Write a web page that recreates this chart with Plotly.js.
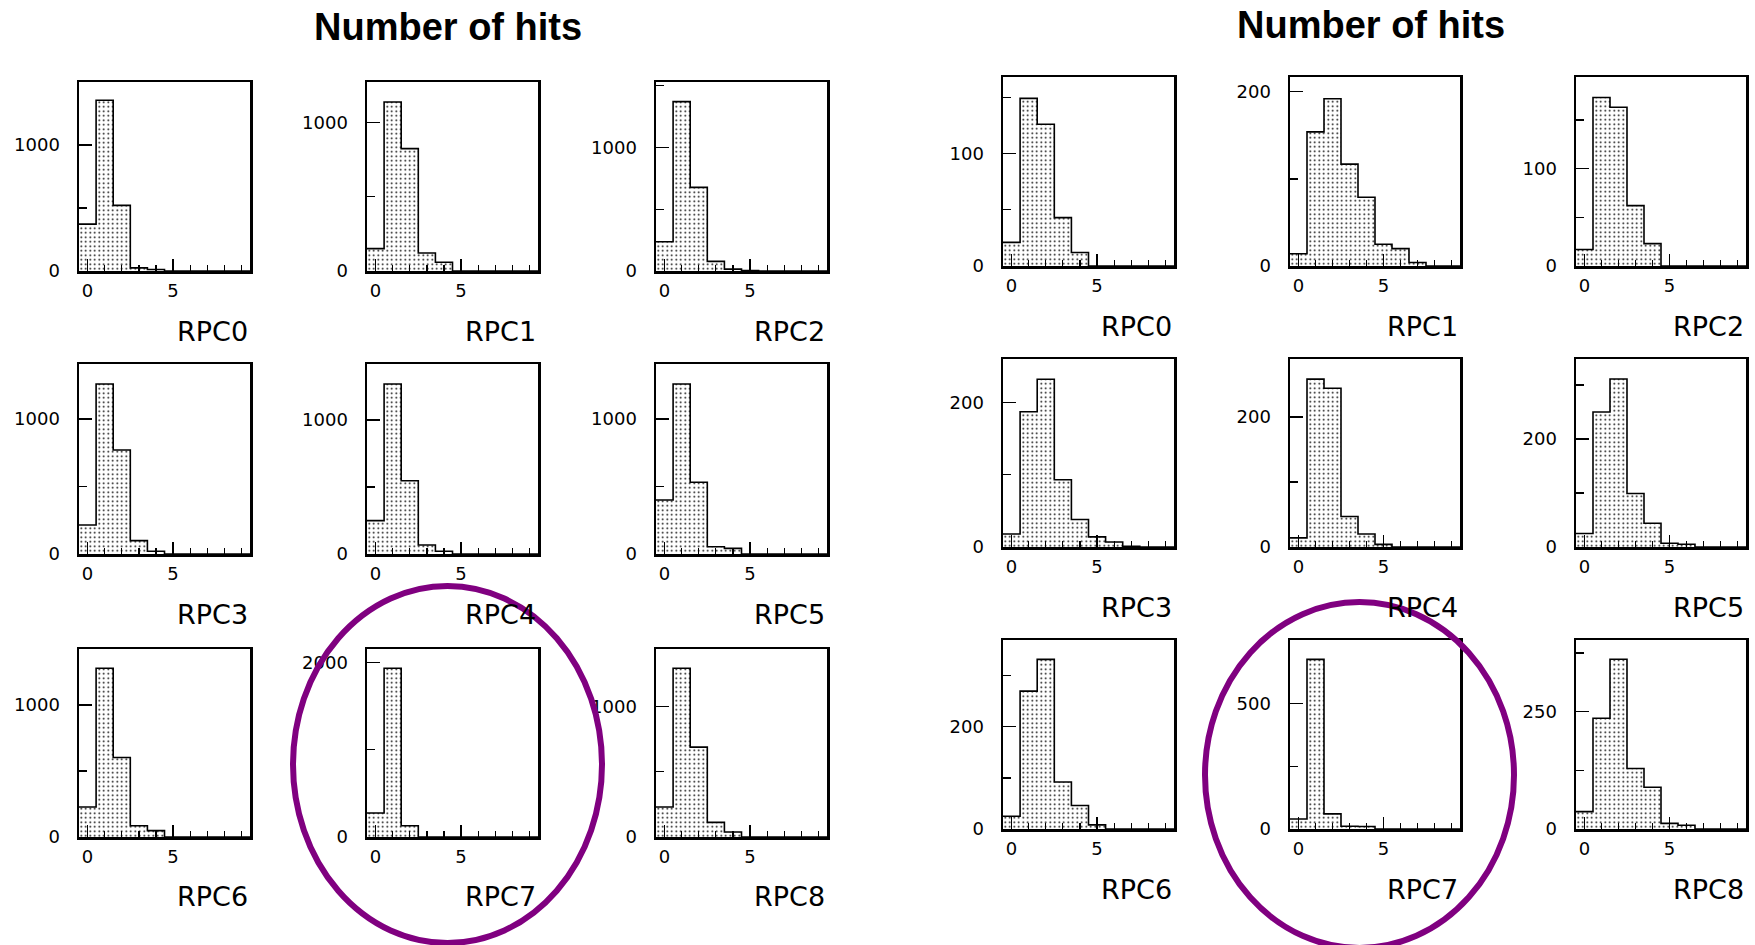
<!DOCTYPE html>
<html><head><meta charset="utf-8">
<script src="https://cdn.plot.ly/plotly-3.0.1.min.js"></script>
<style>html,body{margin:0;padding:0;background:#fff;} #chart{width:1755px;height:945px;}</style>
</head><body><div id="chart"></div>
<script>
// ---- data ----
const bins = [0, 1, 2, 3, 4, 5, 6, 7, 8, 9];
const panelNames = ["RPC0", "RPC1", "RPC2", "RPC3", "RPC4", "RPC5", "RPC6", "RPC7", "RPC8"];
const groupTitle = "Number of hits";

// left group
const left_RPC0 = [372, 1355, 521, 25, 12, 0, 0, 0, 0, 0];
const left_RPC1 = [151, 1139, 825, 121, 59, 0, 0, 0, 0, 0];
const left_RPC2 = [237, 1371, 677, 78, 15, 3, 0, 0, 0, 0];
const left_RPC3 = [215, 1259, 770, 99, 20, 0, 0, 0, 0, 0];
const left_RPC4 = [249, 1269, 547, 67, 20, 0, 0, 0, 0, 0];
const left_RPC5 = [400, 1259, 531, 54, 42, 0, 0, 0, 0, 0];
const left_RPC6 = [227, 1277, 602, 85, 48, 0, 0, 0, 0, 0];
const left_RPC7 = [274, 1931, 129, 0, 0, 0, 0, 0, 0, 0];
const left_RPC8 = [230, 1294, 689, 112, 38, 0, 0, 0, 0, 0];
const leftYTop   = [1500, 1274, 1530, 1407, 1418, 1407, 1423, 2152, 1441];
const leftYDtick = [1000, 1000, 1000, 1000, 1000, 1000, 1000, 2000, 1000];

// right group
const right_RPC0 = [21, 149, 126, 43, 12, 0, 0, 0, 0, 0];
const right_RPC1 = [14, 154, 192, 117, 79, 25, 20, 4, 0, 0];
const right_RPC2 = [17, 173, 163, 62, 23, 0, 0, 0, 0, 0];
const right_RPC3 = [18, 187, 232, 93, 38, 14, 7, 1, 0, 0];
const right_RPC4 = [14, 258, 244, 47, 20, 4, 0, 0, 0, 0];
const right_RPC5 = [25, 250, 311, 99, 44, 7, 5, 0, 0, 0];
const right_RPC6 = [25, 270, 332, 92, 46, 8, 0, 0, 0, 0];
const right_RPC7 = [40, 675, 60, 11, 10, 0, 0, 0, 0, 0];
const right_RPC8 = [37, 236, 362, 129, 89, 12, 8, 0, 0, 0];
const rightYTop   = [168, 217, 194, 260, 289, 348, 370, 752, 403];
const rightYDtick = [100, 200, 100, 200, 200, 200, 200, 500, 250];

// ---- layout geometry (pixels) ----
const W = 1755, H = 945;
const groups = [
  { counts: [left_RPC0, left_RPC1, left_RPC2, left_RPC3, left_RPC4, left_RPC5, left_RPC6, left_RPC7, left_RPC8],
    yTop: leftYTop, yDtick: leftYDtick,
    cols: [[79, 250], [367, 538], [656, 827]],
    rows: [[82, 271], [364, 554], [649, 837]],
    title: { x: 448, y: 27 },
    ellipse: { x0: 293, x1: 602, y0: 586, y1: 943 } },
  { counts: [right_RPC0, right_RPC1, right_RPC2, right_RPC3, right_RPC4, right_RPC5, right_RPC6, right_RPC7, right_RPC8],
    yTop: rightYTop, yDtick: rightYDtick,
    cols: [[1003, 1174], [1290, 1460], [1576, 1746]],
    rows: [[77, 266], [359, 547], [640, 829]],
    title: { x: 1371, y: 25 },
    ellipse: { x0: 1205, x1: 1514, y0: 602, y1: 948 } }
];

const tickFont = { family: "DejaVu Sans", size: 18, color: "#000" };
const data = [];
const layout = {
  width: W, height: H, margin: { l: 0, r: 0, t: 0, b: 0 },
  paper_bgcolor: "#fff", plot_bgcolor: "#fff", showlegend: false,
  bargap: 0, annotations: [], shapes: []
};

// bin edges for the step outline
const binEdges = bins.map(b => b - 0.5).concat([bins[bins.length - 1] + 0.5]);

let k = 0;
groups.forEach(g => {
  layout.annotations.push({
    text: "<b>" + groupTitle + "</b>", xref: "paper", yref: "paper",
    x: g.title.x / W, y: 1 - g.title.y / H, xanchor: "center", yanchor: "middle",
    showarrow: false, font: { family: "Liberation Sans", size: 38, color: "#000" }
  });
  g.counts.forEach((c, i) => {
    k++;
    const r = Math.floor(i / 3), col = i % 3;
    const sfx = k === 1 ? "" : String(k);
    const xa = "x" + sfx, ya = "y" + sfx;
    // dotted fill
    data.push({
      type: "bar", x: bins, y: c, xaxis: xa, yaxis: ya, width: 1,
      marker: { color: "#fff", line: { width: 0 },
        pattern: { shape: ".", fgcolor: "#000", bgcolor: "#fff", size: 4.5, solidity: 0.12 } },
      hoverinfo: "skip"
    });
    // histogram step outline
    data.push({
      type: "scatter", mode: "lines", x: binEdges, y: c.concat([c[c.length - 1]]),
      xaxis: xa, yaxis: ya, line: { shape: "hv", color: "#000", width: 1.6 },
      hoverinfo: "skip"
    });
    const cx = g.cols[col], ry = g.rows[r];
    layout["xaxis" + sfx] = {
      domain: [cx[0] / W, cx[1] / W], anchor: ya, range: [-0.5, 9.5],
      showline: true, mirror: true, linecolor: "#000", linewidth: 2.5,
      ticks: "inside", ticklen: 12, tickwidth: 1.3, tickcolor: "#000",
      tick0: 0, dtick: 5, showgrid: false, zeroline: false,
      minor: { dtick: 1, ticks: "inside", ticklen: 6, tickwidth: 1.3, tickcolor: "#000", showgrid: false },
      tickfont: tickFont, ticklabelstandoff: 2, fixedrange: true
    };
    const d = g.yDtick[i];
    layout["yaxis" + sfx] = {
      domain: [1 - ry[1] / H, 1 - ry[0] / H], anchor: xa, range: [0, g.yTop[i]],
      showline: true, mirror: true, linecolor: "#000", linewidth: 2.5,
      ticks: "inside", ticklen: 13, tickwidth: 1.3, tickcolor: "#000",
      tick0: 0, dtick: d, showgrid: false, zeroline: false,
      minor: { dtick: d / 2, ticks: "inside", ticklen: 8, tickwidth: 1.3, tickcolor: "#000", showgrid: false },
      tickfont: tickFont, ticklabelstandoff: 13, fixedrange: true
    };
    layout.annotations.push({
      text: panelNames[i], xref: xa + " domain", yref: ya + " domain",
      x: 1, y: 0, xanchor: "right", yanchor: "middle", yshift: -60,
      showarrow: false, font: { family: "DejaVu Sans", size: 27, color: "#000" }
    });
  });
  const e = g.ellipse;
  layout.shapes.push({
    type: "circle", xref: "paper", yref: "paper",
    x0: e.x0 / W, x1: e.x1 / W, y0: 1 - e.y1 / H, y1: 1 - e.y0 / H,
    line: { color: "#800080", width: 6 }
  });
});

Plotly.newPlot("chart", data, layout, { displayModeBar: false, staticPlot: true });
</script>
</body></html>
